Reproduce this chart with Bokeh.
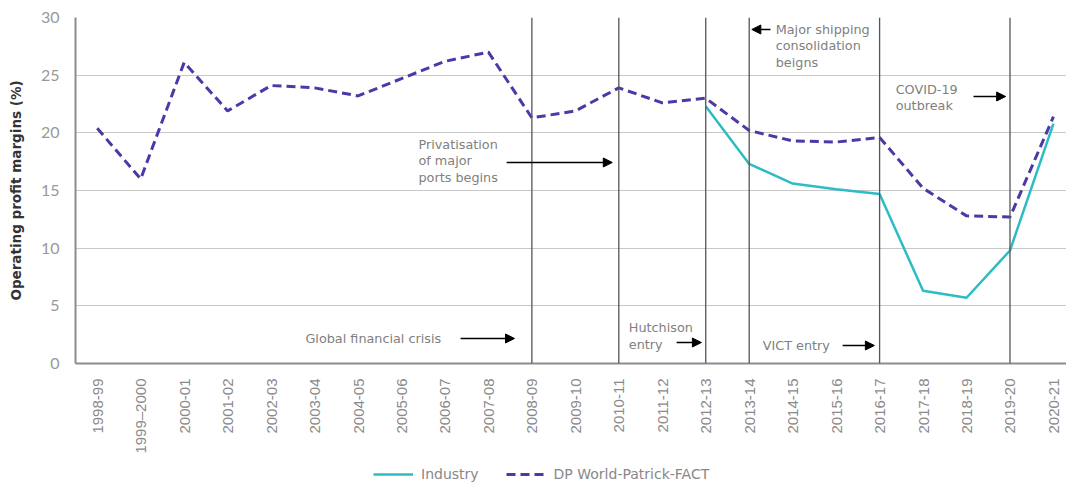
import math
from bokeh.plotting import figure
from bokeh.layouts import column
from bokeh.models import (Range1d, FixedTicker, Span, Label, Arrow, NormalHead,
                          Legend, LegendItem)
from bokeh.embed import file_html
from bokeh.resources import INLINE

years = ["1998-99", "1999\u20132000", "2000-01", "2001-02", "2002-03", "2003-04",
         "2004-05", "2005-06", "2006-07", "2007-08", "2008-09", "2009-10",
         "2010-11", "2011-12", "2012-13", "2013-14", "2014-15", "2015-16",
         "2016-17", "2017-18", "2018-19", "2019-20", "2020-21"]
dp_world = [20.4, 16.0, 26.1, 21.9, 24.1, 23.9, 23.2, 24.7, 26.2, 27.0, 21.3, 21.9,
            23.9, 22.6, 23.0, 20.2, 19.3, 19.2, 19.6, 15.2, 12.8, 12.7, 21.4]
industry_years = years[14:]
industry = [22.3, 17.3, 15.6, 15.1, 14.7, 6.3, 5.7, 9.8, 20.8]
event_years = ["2008-09", "2010-11", "2012-13", "2013-14", "2016-17", "2019-20"]
y_ticks = [0, 5, 10, 15, 20, 25, 30]

TEAL = "#2cbcc4"
PURPLE = "#4a3aa8"

xi = {y: i for i, y in enumerate(years)}
x_ind = [xi[y] for y in industry_years]
x_dp = list(range(len(years)))

p = figure(width=1066, height=457, x_range=Range1d(-0.5, 22.3), y_range=Range1d(0, 30),
           output_backend="svg", toolbar_location=None,
           min_border_left=75, min_border_right=0, min_border_top=17, min_border_bottom=94)
p.outline_line_color = None
p.background_fill_color = "white"

# axes
p.yaxis.ticker = FixedTicker(ticks=y_ticks)
p.yaxis.axis_label = "Operating profit margins (%)"
p.yaxis.axis_label_text_font = "DejaVu Sans"
p.yaxis.axis_label_text_font_style = "bold"
p.yaxis.axis_label_text_font_size = "13.5px"
p.yaxis.axis_label_text_color = "#333333"
p.yaxis.axis_label_standoff = 14
p.yaxis.major_label_text_font = "Lato"
p.yaxis.major_label_text_font_size = "16px"
p.yaxis.major_label_text_color = "#999999"
p.yaxis.major_tick_line_color = None
p.yaxis.minor_tick_line_color = None
p.yaxis.axis_line_color = "#8c8c8c"
p.yaxis.axis_line_width = 2
p.yaxis.major_label_standoff = 10

p.xaxis.ticker = FixedTicker(ticks=x_dp)
p.xaxis.major_label_overrides = {i: y for i, y in enumerate(years)}
p.xaxis.major_label_orientation = math.pi / 2
p.xaxis.major_label_text_font = "Liberation Sans"
p.xaxis.major_label_text_font_size = "15px"
p.xaxis.major_label_text_color = "#8a8a8a"
p.xaxis.major_tick_line_color = None
p.xaxis.minor_tick_line_color = None
p.xaxis.axis_line_color = "#8c8c8c"
p.xaxis.axis_line_width = 2
p.xaxis.major_label_standoff = 9

p.xgrid.grid_line_color = None
p.ygrid.grid_line_color = "#c8c8c8"
p.ygrid.grid_line_width = 1.2

for ey in event_years:
    p.add_layout(Span(location=xi[ey], dimension="height", line_color="#555555", line_width=1.3))

p.line(x_ind, industry, line_color=TEAL, line_width=2.5)
p.line(x_dp, dp_world, line_color=PURPLE, line_width=3, line_dash="9 5")

# annotations
def lab(x, y, text, baseline="top"):
    p.add_layout(Label(x=x, y=y, text=text, text_font="DejaVu Sans", text_font_size="12.8px",
                       text_color="#808080", text_baseline=baseline, text_align="left",
                       text_line_height=1.1))

def arr(x0, y0, x1, y1):
    p.add_layout(Arrow(end=NormalHead(size=9, fill_color="black", line_color="black"),
                       x_start=x0, y_start=y0, x_end=x1, y_end=y1,
                       line_color="black", line_width=1.5))

lab(4.79, 2.17, "Global financial crisis", "middle")
arr(8.36, 2.17, 9.6, 2.17)
lab(7.39, 19.68, "Privatisation\nof major\nports begins")
arr(9.42, 17.43, 11.85, 17.43)
lab(12.23, 3.73, "Hutchison\nentry")
arr(13.33, 1.82, 13.9, 1.82)
lab(15.61, 29.65, "Major shipping\nconsolidation\nbeigns")
arr(15.49, 28.96, 15.06, 28.96)
lab(15.31, 1.56, "VICT entry", "middle")
arr(17.15, 1.56, 17.88, 1.56)
lab(18.37, 24.45, "COVID-19\noutbreak")
arr(20.16, 23.15, 20.9, 23.15)

# legend strip (series drawn outside its visible range; only the legend shows)
lf = figure(width=1066, height=30, output_backend="svg", toolbar_location=None,
            x_axis_type=None, y_axis_type=None, min_border=0,
            min_border_left=0, min_border_right=0, min_border_top=0, min_border_bottom=0,
            x_range=Range1d(100, 101), y_range=Range1d(100, 101))
lf.outline_line_color = None
lf.xgrid.grid_line_color = None
lf.ygrid.grid_line_color = None
l_ind = lf.line(x_ind, industry, line_color=TEAL, line_width=2.5)
l_dp = lf.line(x_dp, dp_world, line_color=PURPLE, line_width=3, line_dash="9 5")
legend = Legend(items=[LegendItem(label="Industry", renderers=[l_ind]),
                       LegendItem(label="DP World-Patrick-FACT", renderers=[l_dp])],
                orientation="horizontal", location=(298, 3))
legend.label_text_font = "DejaVu Sans"
legend.label_text_font_size = "14px"
legend.label_text_color = "#888888"
legend.glyph_width = 40
legend.spacing = 27
legend.label_standoff = 8
legend.border_line_color = None
legend.background_fill_alpha = 0
legend.margin = 0
legend.padding = 2
lf.add_layout(legend, "center")

layout = column(p, lf, spacing=0)
open("out.html", "w").write(file_html(layout, INLINE))
